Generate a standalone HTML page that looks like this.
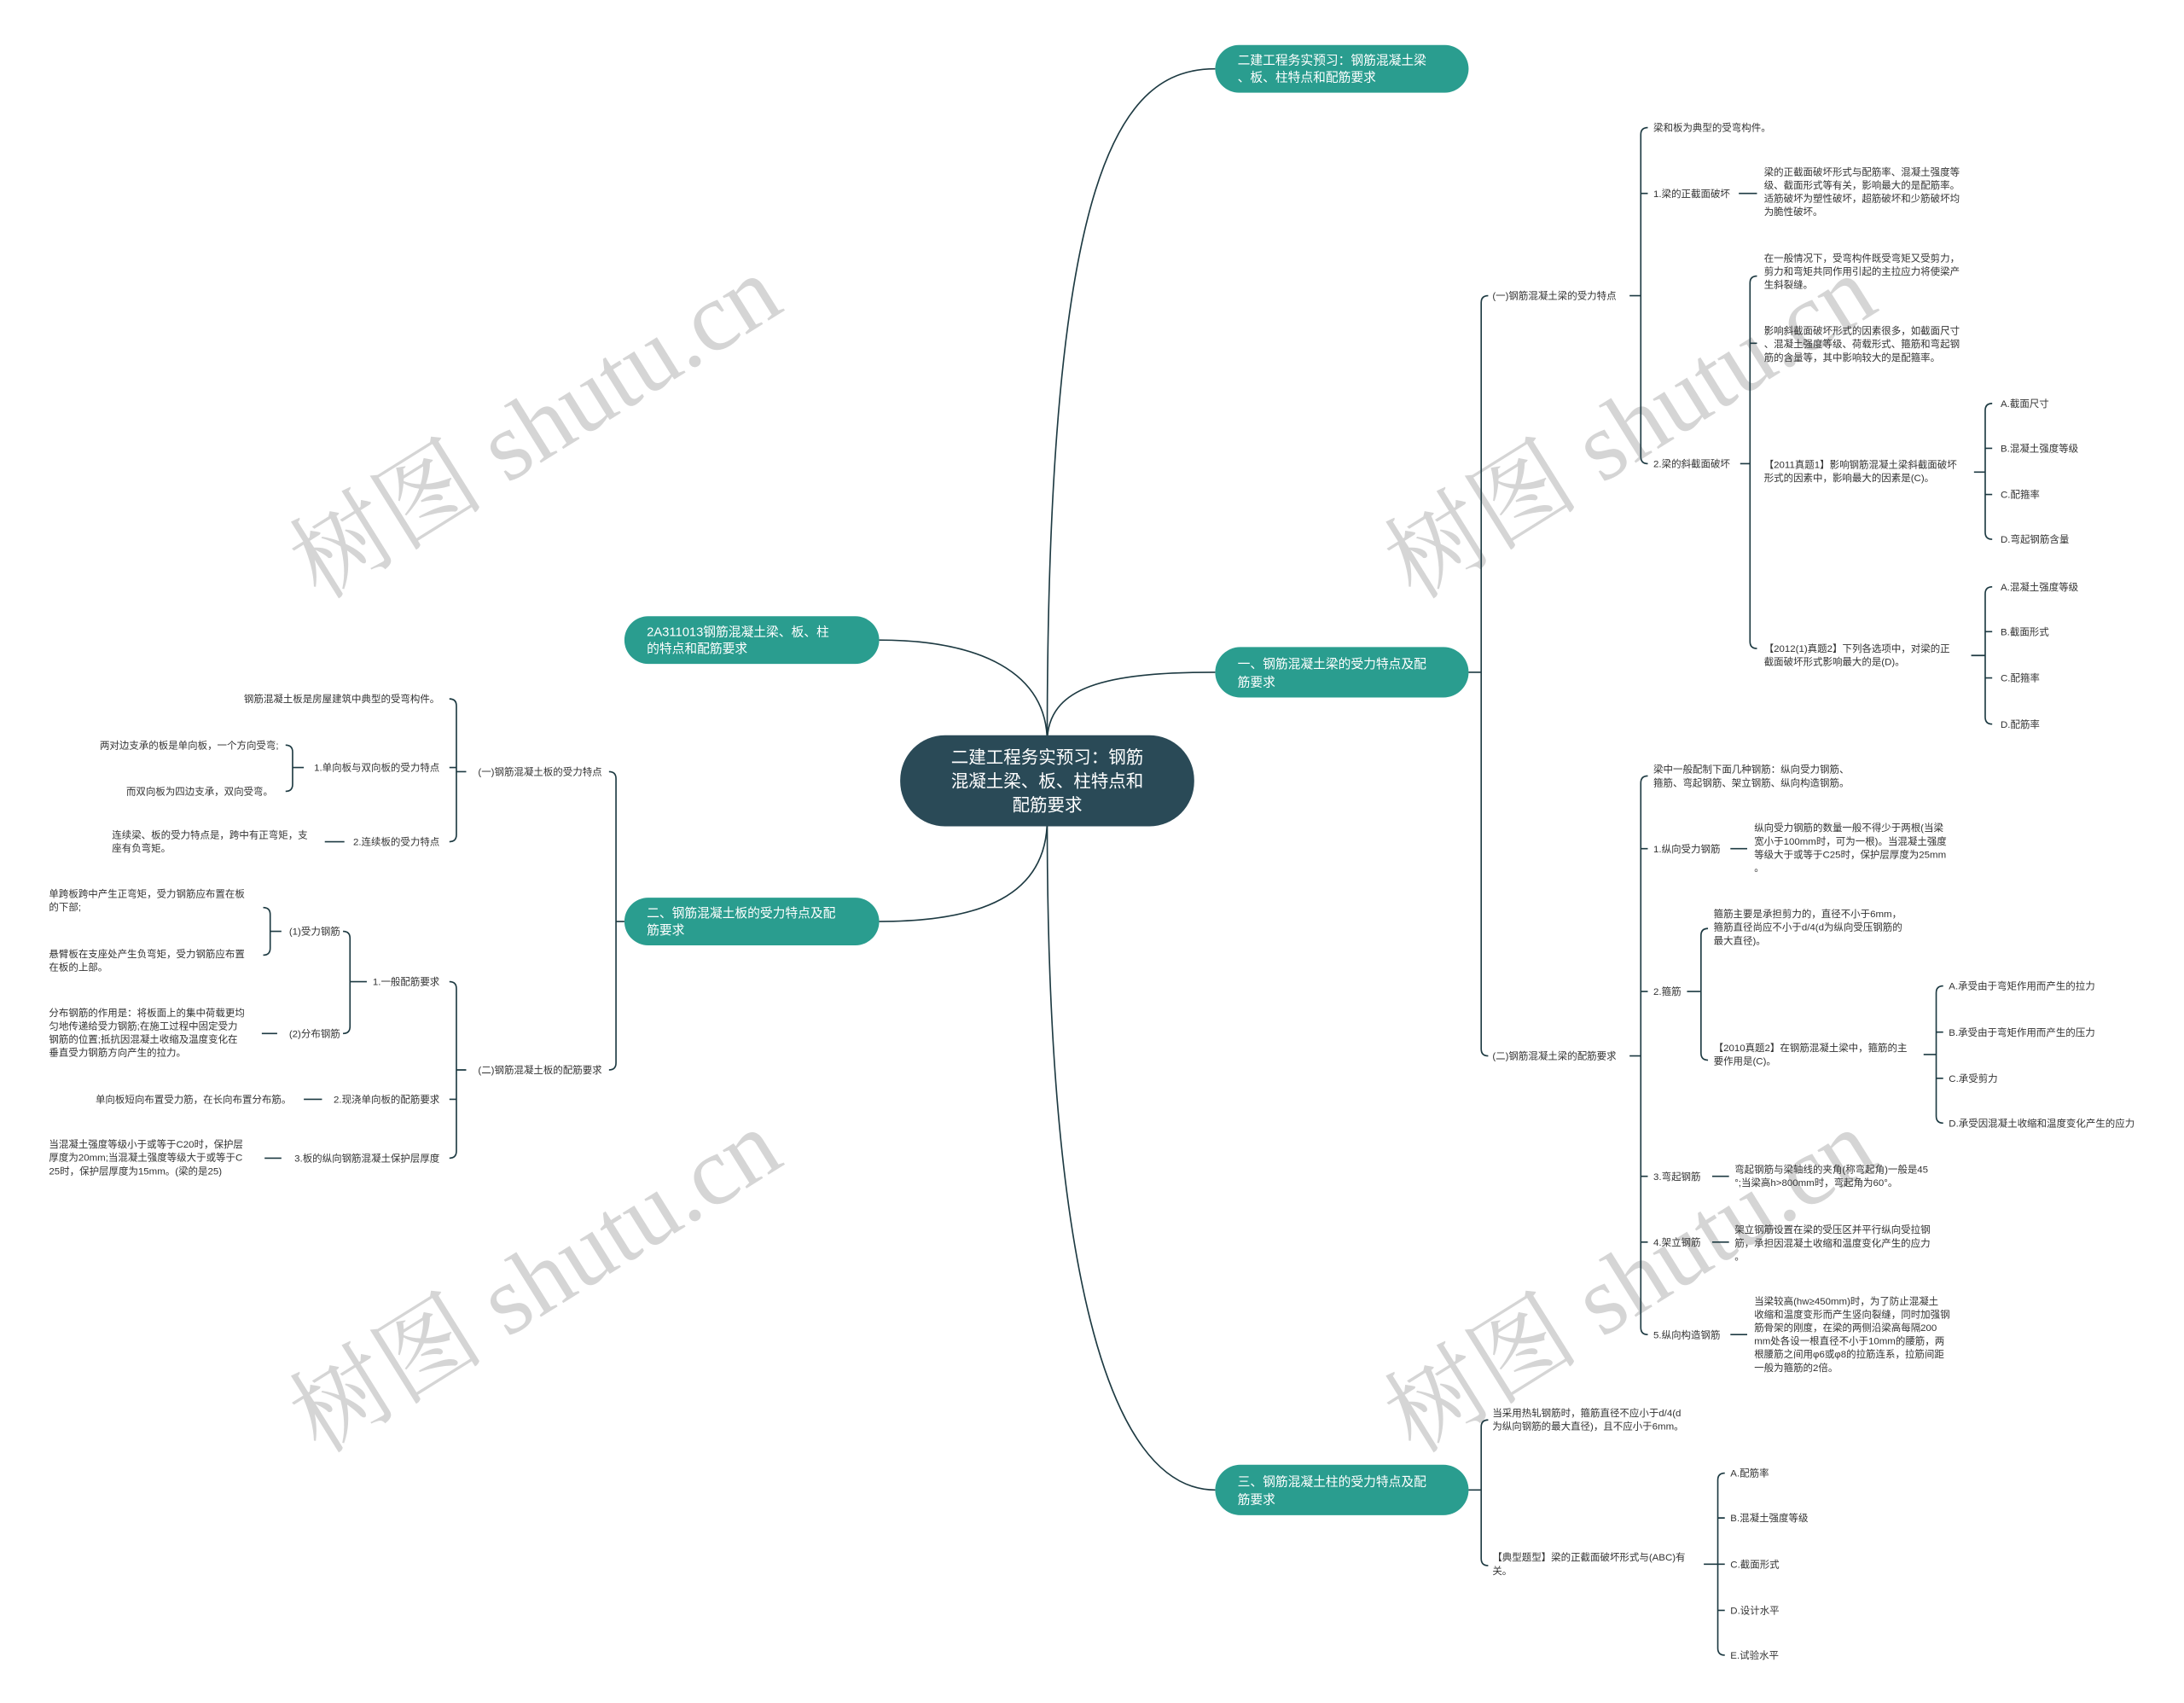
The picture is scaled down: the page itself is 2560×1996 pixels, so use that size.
<!DOCTYPE html>
<html><head><meta charset="utf-8"><style>
html,body{margin:0;padding:0;background:#fff;}
svg{display:block;}
text{font-family:"Liberation Sans","Noto Sans CJK SC",sans-serif;fill:#333;}
.s{font-size:7px;}
.n{font-size:9px;fill:#fff;}
.c{font-size:12.5px;fill:#fff;}
.w{font-family:"Liberation Serif","Noto Serif CJK SC",serif;font-size:70px;fill:#c8c8c8;opacity:.75;}
path{fill:none;stroke:#1d3a42;stroke-width:1;}
</style></head><body>
<svg width="2560" height="1996" viewBox="0 0 1560 1216" xmlns="http://www.w3.org/2000/svg">
<text class="w" transform="translate(395,325) rotate(-32)" text-anchor="middle">树图 shutu.cn</text>
<text class="w" transform="translate(1177,325) rotate(-32)" text-anchor="middle">树图 shutu.cn</text>
<text class="w" transform="translate(395,935) rotate(-32)" text-anchor="middle">树图 shutu.cn</text>
<text class="w" transform="translate(1177,935) rotate(-32)" text-anchor="middle">树图 shutu.cn</text>

<path d="M748,530 C748,120 800,49 868,49"/>
<path d="M748,530 C748,490 790,480 868,480"/>
<path d="M748,585 C748,900 790,1064 868,1064"/>
<path d="M748,530 C748,480 700,457 628,457"/>
<path d="M748,585 C748,640 700,658 628,658"/>

<rect x="643" y="525" width="210" height="65" rx="32" fill="#2a4a57"/>
<text class="c" text-anchor="middle" x="748" y="545">二建工程务实预习：钢筋</text>
<text class="c" text-anchor="middle" x="748" y="562">混凝土梁、板、柱特点和</text>
<text class="c" text-anchor="middle" x="748" y="579">配筋要求</text>

<rect x="868" y="32" width="181" height="34" rx="17" fill="#2a9d8f"/>
<text class="n" x="884" y="46">二建工程务实预习：钢筋混凝土梁</text><text class="n" x="884" y="58">、板、柱特点和配筋要求</text>
<rect x="868" y="462" width="181" height="36" rx="18" fill="#2a9d8f"/>
<text class="n" x="884" y="477">一、钢筋混凝土梁的受力特点及配</text><text class="n" x="884" y="490">筋要求</text>
<rect x="868" y="1046" width="181" height="36" rx="18" fill="#2a9d8f"/>
<text class="n" x="884" y="1061">三、钢筋混凝土柱的受力特点及配</text><text class="n" x="884" y="1074">筋要求</text>
<rect x="446" y="440" width="182" height="34" rx="17" fill="#2a9d8f"/>
<text class="n" x="462" y="454">2A311013钢筋混凝土梁、板、柱</text><text class="n" x="462" y="466">的特点和配筋要求</text>
<rect x="446" y="641" width="182" height="34" rx="17" fill="#2a9d8f"/>
<text class="n" x="462" y="655">二、钢筋混凝土板的受力特点及配</text><text class="n" x="462" y="667">筋要求</text>

<path d="M1049,480 H1058 M1063,211 Q1058,211 1058,216 V749 Q1058,754 1063,754"/>
<text class="s" x="1066" y="213.5">(一)钢筋混凝土梁的受力特点</text>
<text class="s" x="1066" y="756.5">(二)钢筋混凝土梁的配筋要求</text>

<path d="M1164,211 H1172 M1177,91 Q1172,91 1172,96 V326 Q1172,331 1177,331 M1172,138 H1177"/>
<text class="s" x="1181" y="93.5">梁和板为典型的受弯构件。</text>
<text class="s" x="1181" y="140.5">1.梁的正截面破坏</text>
<path d="M1242,138 H1255"/>
<text class="s" x="1260" y="125">梁的正截面破坏形式与配筋率、混凝土强度等</text>
<text class="s" x="1260" y="134.5">级、截面形式等有关，影响最大的是配筋率。</text>
<text class="s" x="1260" y="144">适筋破坏为塑性破坏，超筋破坏和少筋破坏均</text>
<text class="s" x="1260" y="153.5">为脆性破坏。</text>
<text class="s" x="1181" y="333.5">2.梁的斜截面破坏</text>
<path d="M1243,331 H1250 M1255,197 Q1250,197 1250,202 V458 Q1250,463 1255,463 M1250,245 H1255"/>
<text class="s" x="1260" y="186.5">在一般情况下，受弯构件既受弯矩又受剪力，</text>
<text class="s" x="1260" y="196">剪力和弯矩共同作用引起的主拉应力将使梁产</text>
<text class="s" x="1260" y="205.5">生斜裂缝。</text>
<text class="s" x="1260" y="238.5">影响斜截面破坏形式的因素很多，如截面尺寸</text>
<text class="s" x="1260" y="248">、混凝土强度等级、荷载形式、箍筋和弯起钢</text>
<text class="s" x="1260" y="257.5">筋的含量等，其中影响较大的是配箍率。</text>
<text class="s" x="1260" y="334">【2011真题1】影响钢筋混凝土梁斜截面破坏</text>
<text class="s" x="1260" y="343.5">形式的因素中，影响最大的因素是(C)。</text>
<path d="M1410,337 H1418 M1423,288 Q1418,288 1418,293 V380 Q1418,385 1423,385 M1418,320 H1423 M1418,353 H1423"/>
<text class="s" x="1429" y="290.5">A.截面尺寸</text>
<text class="s" x="1429" y="322.5">B.混凝土强度等级</text>
<text class="s" x="1429" y="355.5">C.配箍率</text>
<text class="s" x="1429" y="387.5">D.弯起钢筋含量</text>
<text class="s" x="1260" y="465.5">【2012(1)真题2】下列各选项中，对梁的正</text>
<text class="s" x="1260" y="475">截面破坏形式影响最大的是(D)。</text>
<path d="M1408,468 H1418 M1423,419 Q1418,419 1418,424 V512 Q1418,517 1423,517 M1418,451 H1423 M1418,484 H1423"/>
<text class="s" x="1429" y="421.5">A.混凝土强度等级</text>
<text class="s" x="1429" y="453.5">B.截面形式</text>
<text class="s" x="1429" y="486.5">C.配箍率</text>
<text class="s" x="1429" y="519.5">D.配筋率</text>

<path d="M1164,754 H1172 M1177,554 Q1172,554 1172,559 V948 Q1172,953 1177,953 M1172,606 H1177 M1172,708 H1177 M1172,840 H1177 M1172,887 H1177"/>
<text class="s" x="1181" y="551.5">梁中一般配制下面几种钢筋：纵向受力钢筋、</text>
<text class="s" x="1181" y="561.5">箍筋、弯起钢筋、架立钢筋、纵向构造钢筋。</text>
<text class="s" x="1181" y="608.5">1.纵向受力钢筋</text>
<path d="M1236,606 H1248"/>
<text class="s" x="1253" y="593.5">纵向受力钢筋的数量一般不得少于两根(当梁</text>
<text class="s" x="1253" y="603">宽小于100mm时，可为一根)。当混凝土强度</text>
<text class="s" x="1253" y="612.5">等级大于或等于C25时，保护层厚度为25mm</text>
<text class="s" x="1253" y="622">。</text>
<text class="s" x="1181" y="710.5">2.箍筋</text>
<path d="M1205,708 H1215 M1220,663 Q1215,663 1215,668 V752 Q1215,757 1220,757"/>
<text class="s" x="1224" y="655">箍筋主要是承担剪力的，直径不小于6mm，</text>
<text class="s" x="1224" y="664.5">箍筋直径尚应不小于d/4(d为纵向受压钢筋的</text>
<text class="s" x="1224" y="674">最大直径)。</text>
<text class="s" x="1224" y="750.5">【2010真题2】在钢筋混凝土梁中，箍筋的主</text>
<text class="s" x="1224" y="760">要作用是(C)。</text>
<path d="M1374,753 H1383 M1388,704 Q1383,704 1383,709 V797 Q1383,802 1388,802 M1383,737 H1388 M1383,770 H1388"/>
<text class="s" x="1392" y="706.5">A.承受由于弯矩作用而产生的拉力</text>
<text class="s" x="1392" y="739.5">B.承受由于弯矩作用而产生的压力</text>
<text class="s" x="1392" y="772.5">C.承受剪力</text>
<text class="s" x="1392" y="804.5">D.承受因混凝土收缩和温度变化产生的应力</text>
<text class="s" x="1181" y="842.5">3.弯起钢筋</text>
<path d="M1223,840 H1235"/>
<text class="s" x="1239" y="837.5">弯起钢筋与梁轴线的夹角(称弯起角)一般是45</text>
<text class="s" x="1239" y="847">°;当梁高h&gt;800mm时，弯起角为60°。</text>
<text class="s" x="1181" y="889.5">4.架立钢筋</text>
<path d="M1223,887 H1235"/>
<text class="s" x="1239" y="880.5">架立钢筋设置在梁的受压区并平行纵向受拉钢</text>
<text class="s" x="1239" y="890">筋，承担因混凝土收缩和温度变化产生的应力</text>
<text class="s" x="1239" y="899.5">。</text>
<text class="s" x="1181" y="955.5">5.纵向构造钢筋</text>
<path d="M1236,953 H1248"/>
<text class="s" x="1253" y="931.5">当梁较高(hw≥450mm)时，为了防止混凝土</text>
<text class="s" x="1253" y="941">收缩和温度变形而产生竖向裂缝，同时加强钢</text>
<text class="s" x="1253" y="950.5">筋骨架的刚度，在梁的两侧沿梁高每隔200</text>
<text class="s" x="1253" y="960">mm处各设一根直径不小于10mm的腰筋，两</text>
<text class="s" x="1253" y="969.5">根腰筋之间用φ6或φ8的拉筋连系，拉筋间距</text>
<text class="s" x="1253" y="979">一般为箍筋的2倍。</text>

<path d="M1049,1064 H1058 M1063,1014 Q1058,1014 1058,1019 V1113 Q1058,1118 1063,1118"/>
<text class="s" x="1066" y="1011.5">当采用热轧钢筋时，箍筋直径不应小于d/4(d</text>
<text class="s" x="1066" y="1021">为纵向钢筋的最大直径)，且不应小于6mm。</text>
<text class="s" x="1066" y="1114.5">【典型题型】梁的正截面破坏形式与(ABC)有</text>
<text class="s" x="1066" y="1124">关。</text>
<path d="M1217,1117 H1227 M1232,1052 Q1227,1052 1227,1057 V1177 Q1227,1182 1232,1182 M1227,1084 H1232 M1227,1117 H1232 M1227,1150 H1232"/>
<text class="s" x="1236" y="1054.5">A.配筋率</text>
<text class="s" x="1236" y="1086.5">B.混凝土强度等级</text>
<text class="s" x="1236" y="1119.5">C.截面形式</text>
<text class="s" x="1236" y="1152.5">D.设计水平</text>
<text class="s" x="1236" y="1184.5">E.试验水平</text>

<path d="M446,658 H440 M435,551 Q440,551 440,556 V759 Q440,764 435,764"/>
<text class="s" text-anchor="end" x="430" y="553.5">(一)钢筋混凝土板的受力特点</text>
<text class="s" text-anchor="end" x="430" y="766.5">(二)钢筋混凝土板的配筋要求</text>
<path d="M333,551 H326 M321,499 Q326,499 326,504 V596 Q326,601 321,601 M326,548 H321"/>
<text class="s" text-anchor="end" x="314" y="501.5">钢筋混凝土板是房屋建筑中典型的受弯构件。</text>
<text class="s" text-anchor="end" x="314" y="550.5">1.单向板与双向板的受力特点</text>
<path d="M217,548 H209 M204,532 Q209,532 209,537 V560 Q209,565 204,565"/>
<text class="s" text-anchor="end" x="199" y="534.5">两对边支承的板是单向板，一个方向受弯;</text>
<text class="s" text-anchor="end" x="195" y="567.5">而双向板为四边支承，双向受弯。</text>
<text class="s" text-anchor="end" x="314" y="603.5">2.连续板的受力特点</text>
<path d="M232,601 H246"/>
<text class="s" x="80" y="598.5">连续梁、板的受力特点是，跨中有正弯矩，支</text>
<text class="s" x="80" y="608">座有负弯矩。</text>

<path d="M333,764 H326 M321,701 Q326,701 326,706 V822 Q326,827 321,827 M326,785 H321"/>
<text class="s" text-anchor="end" x="314" y="703.5">1.一般配筋要求</text>
<path d="M262,701 H250 M245,665 Q250,665 250,670 V733 Q250,738 245,738"/>
<text class="s" text-anchor="end" x="243" y="667.5">(1)受力钢筋</text>
<path d="M201,665 H193 M188,648 Q193,648 193,653 V677 Q193,682 188,682"/>
<text class="s" x="35" y="640.5">单跨板跨中产生正弯矩，受力钢筋应布置在板</text>
<text class="s" x="35" y="650">的下部;</text>
<text class="s" x="35" y="683.5">悬臂板在支座处产生负弯矩，受力钢筋应布置</text>
<text class="s" x="35" y="693">在板的上部。</text>
<text class="s" text-anchor="end" x="243" y="740.5">(2)分布钢筋</text>
<path d="M187,738 H198"/>
<text class="s" x="35" y="725.5">分布钢筋的作用是：将板面上的集中荷载更均</text>
<text class="s" x="35" y="735">匀地传递给受力钢筋;在施工过程中固定受力</text>
<text class="s" x="35" y="744.5">钢筋的位置;抵抗因混凝土收缩及温度变化在</text>
<text class="s" x="35" y="754">垂直受力钢筋方向产生的拉力。</text>
<text class="s" text-anchor="end" x="314" y="787.5">2.现浇单向板的配筋要求</text>
<path d="M217,785 H230"/>
<text class="s" text-anchor="end" x="208" y="787.5">单向板短向布置受力筋，在长向布置分布筋。</text>
<text class="s" text-anchor="end" x="314" y="829.5">3.板的纵向钢筋混凝土保护层厚度</text>
<path d="M189,827 H201"/>
<text class="s" x="35" y="819.5">当混凝土强度等级小于或等于C20时，保护层</text>
<text class="s" x="35" y="829">厚度为20mm;当混凝土强度等级大于或等于C</text>
<text class="s" x="35" y="838.5">25时，保护层厚度为15mm。(梁的是25)</text>
</svg>
</body></html>
